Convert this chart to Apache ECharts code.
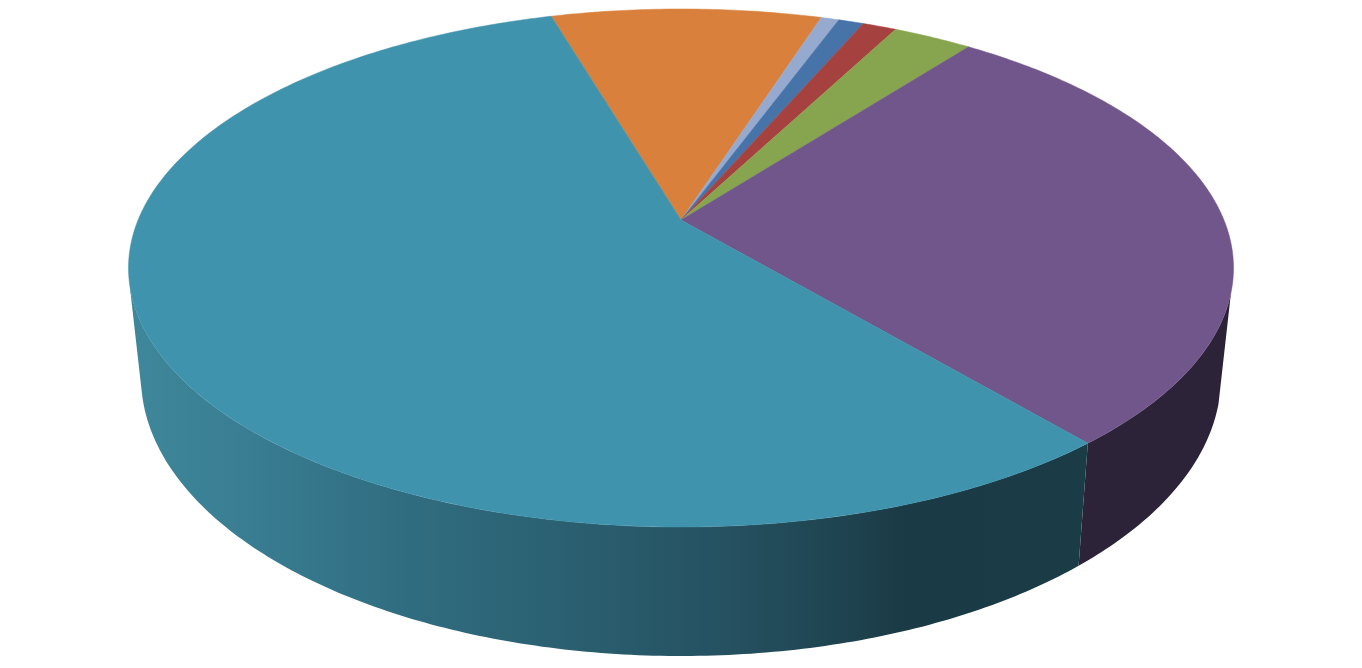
<!DOCTYPE html>
<html><head><meta charset="utf-8">
<style>html,body{margin:0;padding:0;background:#fff;overflow:hidden}#c{width:1362px;height:668px}</style>
<script src="https://cdn.jsdelivr.net/npm/echarts@6/dist/echarts.min.js"></script>
</head><body><div id="c"></div>
<script>
// share of each slice, in percent, clockwise from the teal/orange seam
var sliceNames  = ['Orange','Pale blue','Blue','Red','Green','Purple','Teal'];
var sliceValues = [9.46, 0.63, 0.88, 1.19, 2.78, 28.49, 56.57];
var sliceColors = ['#D8803C','#96A9CF','#4673A8','#A5423F','#87A44F','#70568A','#4093AC'];
var wallColors  = [null,null,null,null,null,'#2D2338',null];
var startAngle = -16.36;
var wallLimits = [106, 256];

var topPlane    = {cx:681, cy:268, rx:552.5, ry:259};
var bottomPlane = {cx:681, cy:377, rx:540,   ry:279};
var tilt = 0.1853;

function project(p, deg){
  var t = deg*Math.PI/180, X = Math.sin(t), Y = Math.cos(t), w = 1 + tilt*Y, q = 1 - tilt*tilt;
  var A = p.rx*Math.sqrt(q), B = p.ry*q, y0 = p.cy - p.ry*tilt;
  return [p.cx + A*X/w, y0 - B*Y/w];
}
function apex(p){ return [p.cx, p.cy - p.ry*tilt]; }

var total = sliceValues.reduce(function(a,b){return a+b;},0);
var spans = [], acc = startAngle;
sliceValues.forEach(function(v){ var e = acc + v/total*360; spans.push([acc,e]); acc = e; });

function arc(p,a,b){ var n = Math.max(4,Math.ceil(Math.abs(b-a)*1.5)), o=[]; for(var i=0;i<=n;i++) o.push(project(p,a+(b-a)*i/n)); return o; }

function renderTop(params, api){
  var s = spans[api.value(0)];
  var pts = [apex(topPlane)].concat(arc(topPlane,s[0],s[1])).map(function(c){return api.coord(c);});
  var col = sliceColors[api.value(0)];
  return {type:'polygon', shape:{points:pts}, style:{fill:col, stroke:col, lineWidth:0.5}};
}
function renderWall(params, api){
  var i = api.value(0), s = spans[i];
  var a = Math.max(s[0],wallLimits[0]), b = Math.min(s[1],wallLimits[1]);
  if (b <= a) return null;
  var pts = arc(topPlane,a,b).concat(arc(bottomPlane,a,b).reverse()).map(function(c){return api.coord(c);});
  var fill = wallColors[i] || new echarts.graphic.LinearGradient(143,0,1219,0,[
    {offset:0.00,color:'#3E8699'},{offset:0.10,color:'#397D92'},{offset:0.25,color:'#306C7F'},
    {offset:0.40,color:'#2A5F70'},{offset:0.55,color:'#255060'},{offset:0.66,color:'#1E424E'},
    {offset:0.71,color:'#1A3A45'},{offset:1.00,color:'#1B3E49'}],true);
  return {type:'polygon', shape:{points:pts}, style:{fill:fill}};
}

var ids = sliceValues.map(function(v,i){return [i];});
echarts.init(document.getElementById('c'),null,{renderer:'canvas'}).setOption({
  backgroundColor:'#fff', animation:false,
  grid:{left:0,right:0,top:0,bottom:0},
  xAxis:{type:'value',min:0,max:1362,show:false},
  yAxis:{type:'value',min:0,max:668,inverse:true,show:false},
  tooltip:{show:false},
  series:[
    {type:'custom',name:'wall',coordinateSystem:'cartesian2d',clip:false,silent:true,data:ids,encode:{x:0,y:0},renderItem:renderWall,z:1},
    {type:'custom',name:'top',coordinateSystem:'cartesian2d',clip:false,silent:true,data:ids,encode:{x:0,y:0},renderItem:renderTop,z:2}
  ]
});
</script></body></html>
